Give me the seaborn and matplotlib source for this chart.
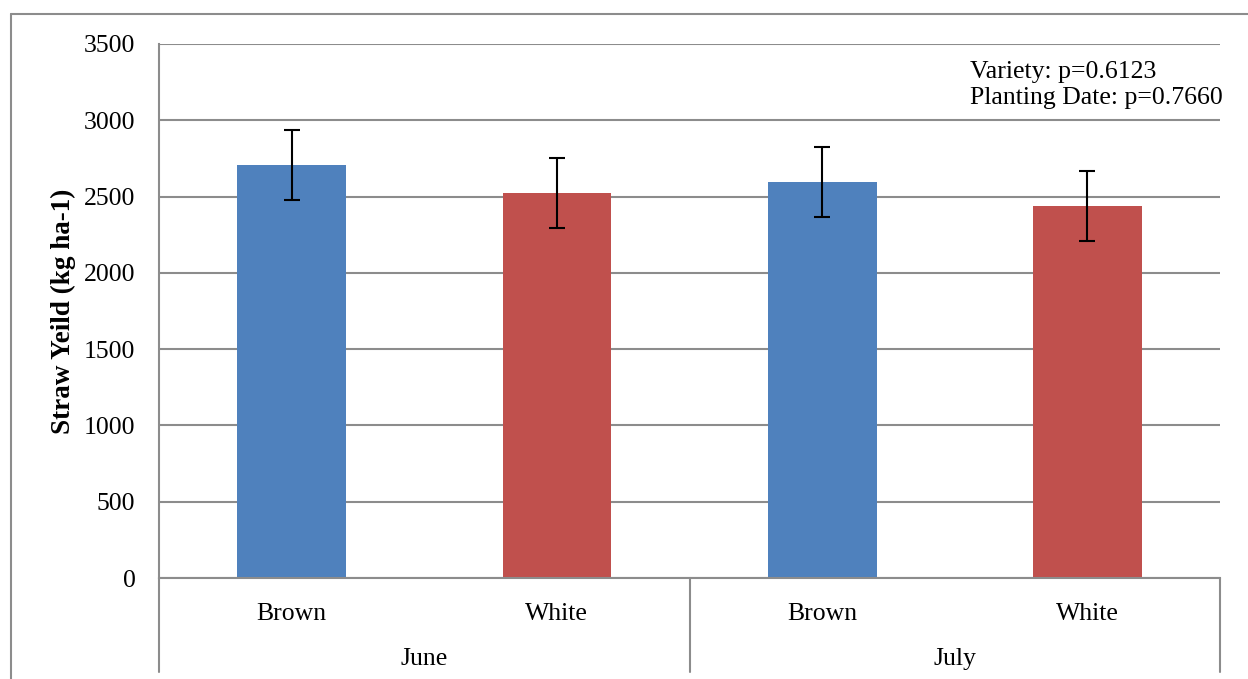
import pandas as pd
import matplotlib
matplotlib.use("Agg")
import matplotlib.pyplot as plt
import matplotlib.lines as mlines
import seaborn as sns

# data
dates = ["June", "June", "July", "July"]
varieties = ["Brown", "White", "Brown", "White"]
yields = [2707, 2522, 2595, 2437]
errors = [230, 230, 229, 231]

df = pd.DataFrame({
    "group": [d + " " + v for d, v in zip(dates, varieties)],
    "variety": varieties,
    "yield": yields,
})

sns.set_style("white")
plt.rcParams["font.family"] = ["Liberation Serif", "DejaVu Serif"]
plt.rcParams["text.color"] = "black"
plt.rcParams["axes.labelcolor"] = "black"
plt.rcParams["xtick.color"] = "black"
plt.rcParams["ytick.color"] = "black"

fig = plt.figure(figsize=(12.48, 6.79), dpi=100)
ax = fig.add_axes([0.1274, 0.1487, 0.8502, 0.7865])

sns.barplot(data=df, x="group", y="yield", hue="variety",
            palette={"Brown": "#4F81BD", "White": "#C0504D"},
            saturation=1, linewidth=0, dodge=False, width=0.41,
            legend=False, ax=ax)
ax.errorbar(range(len(yields)), yields, yerr=errors, fmt="none",
            ecolor="black", elinewidth=1.5, capsize=5.5, capthick=1.5)

grid_c = "#8c8c8c"
ax.set_ylim(0, 3500)
ax.set_xlim(-0.5, 3.5)
ax.set_yticks(range(0, 3501, 500))
ax.yaxis.grid(True, color=grid_c, linewidth=1.5)
ax.set_axisbelow(True)
for s in ["top", "right"]:
    ax.spines[s].set_visible(False)
for s in ["left", "bottom"]:
    ax.spines[s].set_color(grid_c)
    ax.spines[s].set_linewidth(1.5)

ax.set_xticks(range(len(varieties)))
ax.set_xticklabels(varieties)
ax.tick_params(axis="x", length=0, pad=18, labelsize=18.5)
ax.tick_params(axis="y", length=0, pad=17, labelsize=18.5)
ax.set_xlabel("")
ax.set_ylabel("Straw Yeild (kg ha-1)", fontsize=19.5, fontweight="bold", labelpad=6)

# second level of the category axis
trans = ax.get_xaxis_transform()
for xb in [-0.5, 1.5, 3.5]:
    ax.plot([xb, xb], [0, -0.176], transform=trans, color=grid_c,
            linewidth=1.5, clip_on=False)
for i, d in enumerate(["June", "July"]):
    ax.text(i * 2 + 0.5, -0.152, d, transform=trans, ha="center",
            va="center", fontsize=18.5)

ax.text(0.764, 0.9476, "Variety: p=0.6123", transform=ax.transAxes,
        ha="left", va="center", fontsize=18.5)
ax.text(0.764, 0.899, "Planting Date: p=0.7660", transform=ax.transAxes,
        ha="left", va="center", fontsize=18.5)

# outer chart border
fig.add_artist(mlines.Line2D([11 / 1248, 11 / 1248], [0, 1 - 14 / 679],
                             color=grid_c, linewidth=1.5))
fig.add_artist(mlines.Line2D([11 / 1248, 1], [1 - 14 / 679, 1 - 14 / 679],
                             color=grid_c, linewidth=1.5))

fig.savefig("out.png", dpi=100)
